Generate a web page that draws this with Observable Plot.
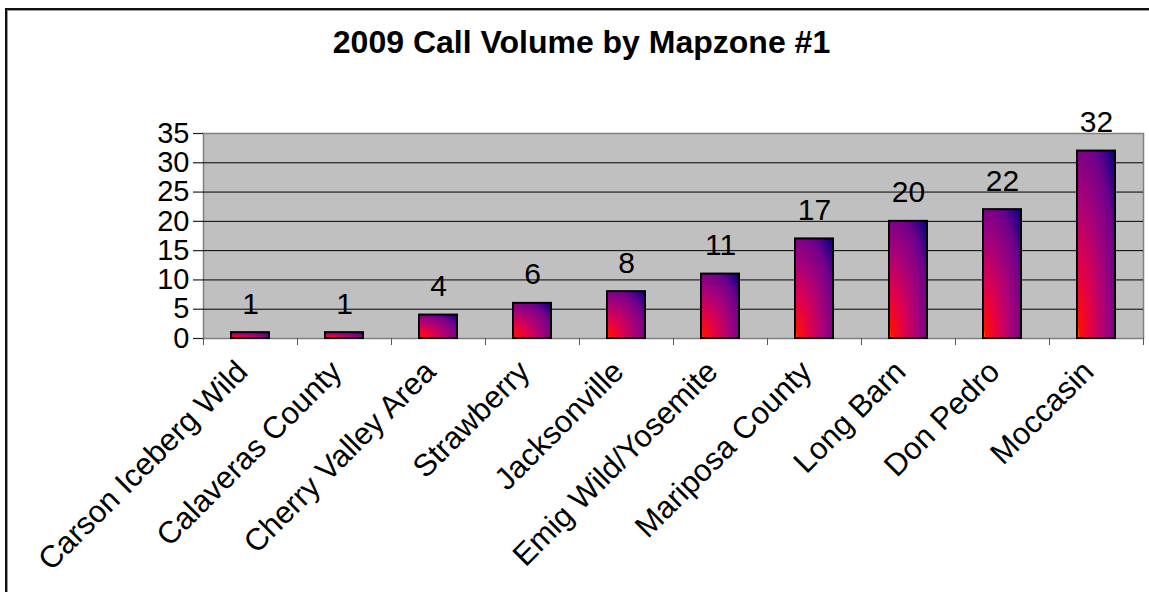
<!DOCTYPE html>
<html>
<head>
<meta charset="utf-8">
<script src="https://cdn.jsdelivr.net/npm/d3@7"></script>
<script src="https://cdn.jsdelivr.net/npm/@observablehq/plot@0.6"></script>
<style>
  html, body { margin: 0; padding: 0; background: #fff; overflow: hidden; width: 1149px; height: 592px; }
  body { position: relative; font-family: "Liberation Sans", Arial, sans-serif; color: #000; }
  #frame { position: absolute; left: 5px; top: 8px; width: 1160px; height: 640px; border-left: 2px solid #111; border-top: 2px solid #111; box-shadow: inset 1px 1px 0 #999; }
  #title { position: absolute; left: 5px; width: 1153px; top: 26px; text-align: center; font-weight: bold; font-size: 32px; line-height: 32px; }
  #chart { position: absolute; left: 0; top: 0; }
</style>
</head>
<body>
<div id="frame"></div>
<div id="chart"></div>
<div id="title">2009 Call Volume by Mapzone #1</div>
<script>
const categories = ["Carson Iceberg Wild", "Calaveras County", "Cherry Valley Area", "Strawberry", "Jacksonville", "Emig Wild/Yosemite", "Mariposa County", "Long Barn", "Don Pedro", "Moccasin"];
const values = [1, 1, 4, 6, 8, 11, 17, 20, 22, 32];
const yTicks = [0, 5, 10, 15, 20, 25, 30, 35];
const gridTicks = [5, 10, 15, 20, 25, 30];

const data = categories.map((c, i) => ({category: c, value: values[i]}));

const W = 1149, H = 592;
const mL = 203, mR = 6, mT = 133, mB = 254;
const halfBand = (W - mL - mR) / categories.length / 2;

const defs = () => {
  const d = d3.create("svg:defs");
  const g = d.append("radialGradient").attr("id", "barGrad")
    .attr("gradientUnits", "objectBoundingBox")
    .attr("cx", 0).attr("cy", 1).attr("r", 1.42).attr("fx", 0).attr("fy", 1);
  [[0, "#ffb000"], [0.05, "#ff1000"], [0.28, "#e0004c"], [0.52, "#a8007a"], [0.76, "#70008c"], [1, "#000080"]]
    .forEach(([o, c]) => g.append("stop").attr("offset", o).attr("stop-color", c));
  return d.node();
};

const plot = Plot.plot({
  width: W, height: H,
  marginLeft: mL, marginRight: mR, marginTop: mT, marginBottom: mB,
  style: {fontFamily: "'Liberation Sans', Arial, sans-serif", color: "#000", background: "transparent", overflow: "visible"},
  x: {type: "band", domain: categories, paddingInner: 0, paddingOuter: 0, label: null},
  y: {domain: [0, 35], label: null},
  marks: [
    defs,
    Plot.frame({fill: "#c0c0c0", stroke: "#808080", strokeWidth: 1.5}),
    Plot.ruleY(gridTicks, {stroke: "#000", strokeWidth: 1}),
    Plot.axisY({ticks: yTicks, tickSize: 10, tickPadding: 4, fontSize: 29, line: true, stroke: "#222", strokeWidth: 1.2, label: null}),
    Plot.axisX({ticks: categories, tickSize: 7, dx: -halfBand, text: null, stroke: "#555", label: null}),
    Plot.axisX({ticks: categories.slice(-1), tickSize: 7, dx: halfBand, text: null, stroke: "#555", label: null}),
    Plot.axisX({tickSize: 0, tickPadding: 28, tickRotate: -45, fontSize: 31, dx: -8, label: null}),
    Plot.barY(data, {x: "category", y: "value", fill: "url(#barGrad)", stroke: "#000", strokeWidth: 2, insetLeft: 28, insetRight: 28}),
    Plot.text(data, {x: "category", y: "value", text: d => String(d.value), lineAnchor: "bottom", dy: -19, fontSize: 30})
  ]
});
document.getElementById("chart").append(plot);
</script>
</body>
</html>
